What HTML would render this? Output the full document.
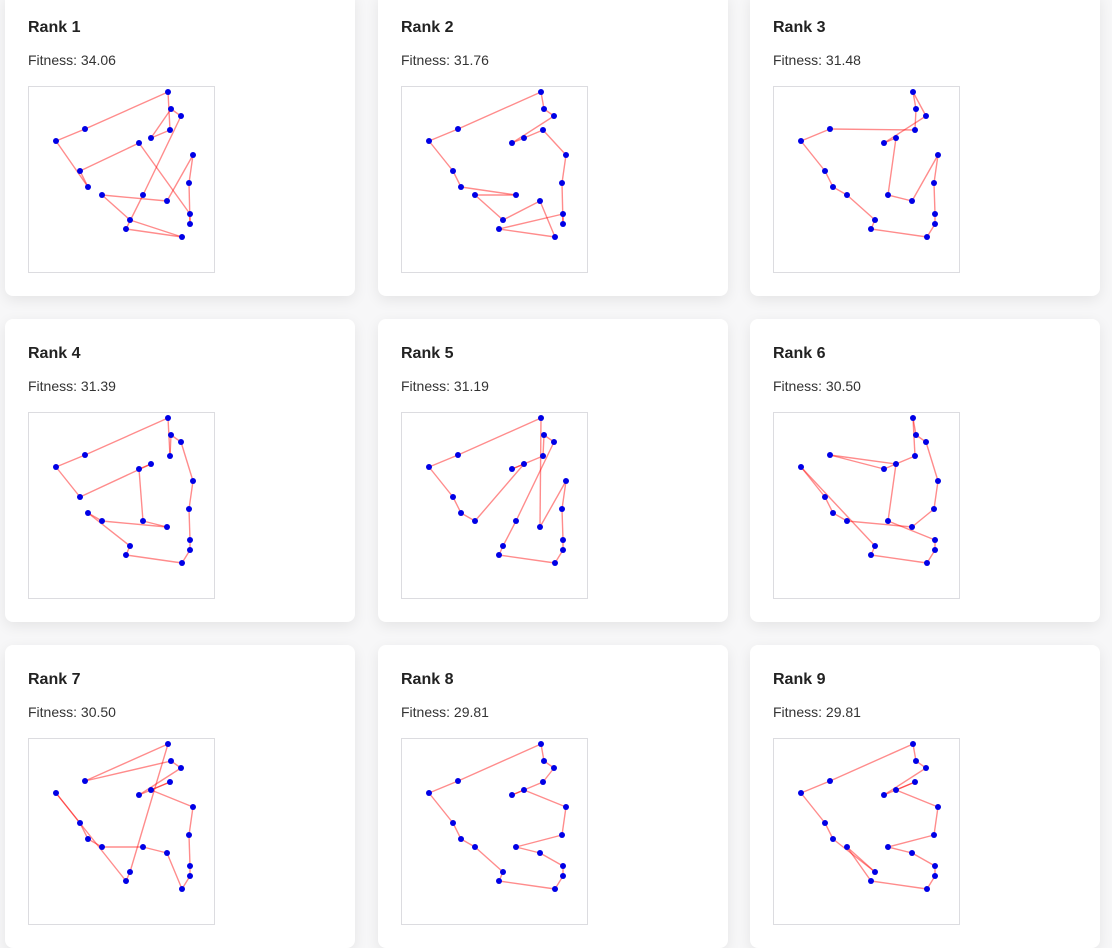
<!DOCTYPE html>
<html><head><meta charset="utf-8"><style>
body{margin:0;background:#f7f7f8;font-family:"Liberation Sans","DejaVu Sans",sans-serif;width:1112px;height:837px;overflow:hidden;position:relative}
.card{position:absolute;width:350px;height:303px;background:#fff;border-radius:8px;box-shadow:0 4px 14px rgba(0,0,0,0.08)}
.t{position:absolute;left:23px;top:26px;font-size:16px;font-weight:600;color:#222}
.f{position:absolute;left:23px;top:59px;font-size:14px;color:#333}
svg{position:absolute;left:23px;top:93px}
</style></head><body>
<div id="root"></div>
<script>
const fitness=[34.06,31.76,31.48,31.39,31.19,30.50,30.50,29.81,29.81];
const px=[140,143,153,57,142,28,123,111,165,52,161,60,74,115,139,162,102,162,98,154];
const py=[6,23,30,43,44,55,52,57,69,85,97,101,109,109,115,128,134,138,143,151];
const routes=[
[0,3,5,11,9,7,15,17,10,8,14,12,16,19,18,13,2,1,6,4],
[0,3,5,9,11,13,12,16,14,19,18,15,17,10,8,4,6,7,2,1],
[0,1,4,3,5,9,11,12,16,18,19,17,15,10,8,14,13,6,7,2],
[0,3,5,9,6,7,13,14,12,11,16,18,19,17,15,10,8,2,1,4],
[0,3,5,9,11,12,6,7,4,1,2,13,16,18,19,17,15,10,8,14],
[0,1,2,8,10,14,12,11,9,5,16,18,19,17,15,13,6,3,7,4],
[0,16,18,5,9,11,12,13,14,19,17,15,10,8,6,4,7,2,1,3],
[0,3,5,9,11,12,16,18,19,17,15,14,13,10,8,6,7,4,2,1],
[0,3,5,9,11,16,12,18,19,17,15,14,13,10,8,6,4,7,2,1]];
const root=document.getElementById('root');
const NS='http://www.w3.org/2000/svg';
for(let i=0;i<9;i++){
  const c=document.createElement('div');c.className='card';
  
  
  c.style.left=[5,378,750][i%3]+'px';c.style.top=(-7+326*Math.floor(i/3))+'px';
  const t=document.createElement('div');t.className='t';t.textContent='Rank '+(i+1);
  
  
  const f=document.createElement('div');f.className='f';f.textContent='Fitness: '+fitness[i].toFixed(2);
  
  
  const s=document.createElementNS(NS,'svg');s.setAttribute('width',187);s.setAttribute('height',187);
  
  
  let h='<rect x="0.5" y="0.5" width="186" height="186" fill="#fff" stroke="#dcdce0"/>';
  const r=routes[i];
  for(let k=0;k<r.length;k++){const a=r[k],b=r[(k+1)%r.length];
    h+=`<line x1="${px[a]}" y1="${py[a]}" x2="${px[b]}" y2="${py[b]}" stroke="rgba(255,0,0,0.45)" stroke-width="1.4"/>`;}
  for(let k=0;k<px.length;k++)h+=`<circle cx="${px[k]}" cy="${py[k]}" r="3" fill="#0000e6"/>`;
  s.innerHTML=h;
  c.appendChild(t);c.appendChild(f);c.appendChild(s);root.appendChild(c);
}
</script>
</body></html>
